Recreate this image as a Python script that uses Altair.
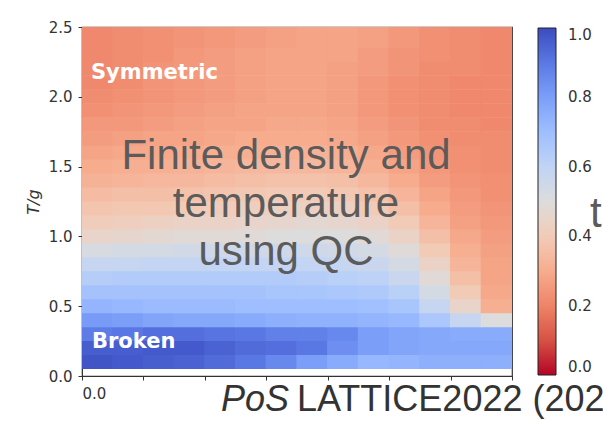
import altair as alt
import pandas as pd

# Cell centres along the horizontal axis (chemical potential) and temperature T/g
mu_centres = [0.125, 0.375, 0.625, 0.875, 1.125, 1.375, 1.625,
              1.875, 2.125, 2.375, 2.625, 2.875, 3.125, 3.375]
mu_step = 0.25
t_centres = [0.1, 0.2, 0.3, 0.4, 0.5, 0.6, 0.7, 0.8, 0.9, 1.0, 1.1, 1.2, 1.3,
             1.4, 1.5, 1.6, 1.7, 1.8, 1.9, 2.0, 2.1, 2.2, 2.3, 2.4, 2.5]
t_step = 0.1

# Order-parameter values, one list per temperature row (left to right in mu)
row_t01 = [0.98, 0.97, 0.96, 0.95, 0.93, 0.90, 0.86, 0.80, 0.76, 0.72, 0.73, 0.75, 0.75, 0.75]
row_t02 = [0.96, 0.96, 0.97, 0.97, 0.95, 0.93, 0.92, 0.90, 0.84, 0.80, 0.78, 0.77, 0.77, 0.77]
row_t03 = [0.89, 0.90, 0.92, 0.92, 0.91, 0.90, 0.88, 0.88, 0.86, 0.80, 0.78, 0.77, 0.76, 0.76]
row_t04 = [0.81, 0.80, 0.78, 0.77, 0.77, 0.76, 0.75, 0.74, 0.74, 0.73, 0.72, 0.66, 0.58, 0.50]
row_t05 = [0.73, 0.72, 0.71, 0.71, 0.71, 0.70, 0.70, 0.70, 0.70, 0.69, 0.67, 0.58, 0.45, 0.31]
row_t06 = [0.68, 0.68, 0.68, 0.68, 0.68, 0.68, 0.67, 0.67, 0.66, 0.65, 0.62, 0.53, 0.40, 0.29]
row_t07 = [0.63, 0.64, 0.64, 0.64, 0.64, 0.64, 0.64, 0.63, 0.62, 0.61, 0.57, 0.48, 0.36, 0.28]
row_t08 = [0.58, 0.58, 0.59, 0.59, 0.59, 0.59, 0.59, 0.59, 0.58, 0.57, 0.53, 0.44, 0.33, 0.28]
row_t09 = [0.52, 0.53, 0.53, 0.54, 0.55, 0.55, 0.55, 0.55, 0.54, 0.53, 0.49, 0.40, 0.31, 0.27]
row_t10 = [0.45, 0.46, 0.47, 0.48, 0.48, 0.49, 0.50, 0.50, 0.50, 0.48, 0.44, 0.36, 0.29, 0.26]
row_t11 = [0.41, 0.42, 0.43, 0.44, 0.44, 0.45, 0.46, 0.47, 0.46, 0.44, 0.40, 0.33, 0.27, 0.25]
row_t12 = [0.38, 0.39, 0.39, 0.40, 0.41, 0.42, 0.43, 0.43, 0.43, 0.40, 0.36, 0.30, 0.26, 0.24]
row_t13 = [0.35, 0.36, 0.36, 0.37, 0.38, 0.39, 0.40, 0.40, 0.39, 0.37, 0.33, 0.28, 0.25, 0.23]
row_t14 = [0.32, 0.33, 0.34, 0.34, 0.35, 0.36, 0.37, 0.37, 0.36, 0.34, 0.30, 0.26, 0.24, 0.23]
row_t15 = [0.30, 0.31, 0.31, 0.32, 0.33, 0.34, 0.34, 0.34, 0.33, 0.31, 0.28, 0.25, 0.23, 0.22]
row_t16 = [0.28, 0.29, 0.29, 0.30, 0.31, 0.31, 0.32, 0.32, 0.31, 0.29, 0.26, 0.24, 0.23, 0.22]
row_t17 = [0.26, 0.27, 0.28, 0.28, 0.29, 0.30, 0.30, 0.30, 0.29, 0.27, 0.25, 0.23, 0.22, 0.22]
row_t18 = [0.25, 0.25, 0.26, 0.27, 0.28, 0.28, 0.29, 0.29, 0.28, 0.26, 0.24, 0.22, 0.22, 0.21]
row_t19 = [0.23, 0.24, 0.25, 0.26, 0.27, 0.28, 0.28, 0.28, 0.27, 0.25, 0.23, 0.22, 0.21, 0.21]
row_t20 = [0.22, 0.23, 0.24, 0.25, 0.26, 0.27, 0.28, 0.28, 0.27, 0.25, 0.23, 0.22, 0.21, 0.21]
row_t21 = [0.21, 0.22, 0.24, 0.25, 0.26, 0.27, 0.28, 0.28, 0.27, 0.25, 0.23, 0.22, 0.21, 0.21]
row_t22 = [0.21, 0.22, 0.24, 0.25, 0.26, 0.27, 0.28, 0.28, 0.27, 0.26, 0.24, 0.22, 0.22, 0.21]
row_t23 = [0.21, 0.22, 0.23, 0.25, 0.26, 0.27, 0.28, 0.28, 0.28, 0.26, 0.24, 0.23, 0.22, 0.21]
row_t24 = [0.21, 0.22, 0.23, 0.24, 0.25, 0.26, 0.27, 0.28, 0.28, 0.27, 0.25, 0.23, 0.22, 0.21]
row_t25 = [0.21, 0.22, 0.23, 0.24, 0.25, 0.26, 0.27, 0.28, 0.28, 0.27, 0.25, 0.23, 0.22, 0.21]

rows = [row_t01, row_t02, row_t03, row_t04, row_t05, row_t06, row_t07, row_t08,
        row_t09, row_t10, row_t11, row_t12, row_t13, row_t14, row_t15, row_t16,
        row_t17, row_t18, row_t19, row_t20, row_t21, row_t22, row_t23, row_t24,
        row_t25]

# Colour bar ticks and reversed coolwarm stops (0 = red, 1 = blue)
cbar_ticks = [0.0, 0.2, 0.4, 0.6, 0.8, 1.0]
cmap_stops = [0.0, 0.1, 0.2, 0.3, 0.4, 0.5, 0.6, 0.7, 0.8, 0.9, 1.0]
cmap_colors = ["#b40426", "#d65244", "#ee8468", "#f7ac8e", "#f2cbb7", "#dddcdc",
               "#c0d4f5", "#9ebeff", "#7b9ff9", "#5a78e4", "#3b4cc0"]

# Cells overlap their neighbours by a hair so antialiasing leaves no seams
mu_overlap = 0.005
t_overlap = 0.004

records = []
for t, row in zip(t_centres, rows):
    for mu, v in zip(mu_centres, row):
        records.append({
            "mu0": mu - mu_step / 2 - mu_overlap, "mu1": mu + mu_step / 2 + mu_overlap,
            "t0": t - t_step / 2, "t1": t + t_step / 2 + t_overlap, "value": v,
        })
cells = pd.DataFrame(records)

x_scale = alt.Scale(domain=[0, 3.5], nice=False, zero=False)
y_scale = alt.Scale(domain=[0, 2.5], nice=False, zero=False)
c_scale = alt.Scale(domain=cmap_stops, range=cmap_colors, interpolate="rgb")

heat = alt.Chart(cells).mark_rect(clip=True, strokeWidth=0).encode(
    x=alt.X("mu0:Q", scale=x_scale,
            axis=alt.Axis(title=None, values=[0, 0.5, 1, 1.5, 2, 2.5, 3, 3.5],
                          labelExpr="datum.value == 0 ? '0.0' : ''",
                          labelPadding=6)),
    x2="mu1:Q",
    y=alt.Y("t0:Q", scale=y_scale,
            axis=alt.Axis(title="T/g", values=[0, 0.5, 1, 1.5, 2, 2.5],
                          format=".1f", titleFontStyle="italic",
                          titleFontWeight="normal", titleFontSize=16,
                          titlePadding=7, labelPadding=6)),
    y2="t1:Q",
    color=alt.Color(
        "value:Q",
        scale=c_scale,
        legend=alt.Legend(
            title=None, orient="none", legendX=456, legendY=1,
            direction="vertical", gradientLength=347, gradientThickness=18,
            gradientStrokeColor="#222", gradientStrokeWidth=1,
            values=cbar_ticks, format=".1f", labelFontSize=15,
            labelOffset=12, labelBaseline="middle", labelColor="#333",
            labelFont="DejaVu Sans", labelOverlap=False,
        ),
    ),
)

one = alt.Data(values=[{}])

def note(text, x, y, **style):
    return alt.Chart(one).mark_text(text=text, **style).encode(
        x=alt.value(x), y=alt.value(y))

symmetric = note("Symmetric", 9, 52, align="left", baseline="alphabetic",
                 font="DejaVu Sans", fontWeight="bold", fontSize=21, color="white")
broken = note("Broken", 10, 321, align="left", baseline="alphabetic",
              font="DejaVu Sans", fontWeight="bold", fontSize=21, color="white")
headline = note(["Finite density and", "temperature", "using QC"], 204, 142,
                align="center", baseline="alphabetic", lineHeight=48,
                font="Liberation Sans", fontSize=42, color="#5b5b5b")
side_t = note("t", 508, 200, align="left", baseline="alphabetic",
              font="Liberation Sans", fontSize=42, color="#5b5b5b")
pos_it = note("PoS", 139, 384, align="left", baseline="alphabetic",
              font="Liberation Sans", fontStyle="italic", fontSize=36, color="#333")
pos_rest = note("LATTICE2022 (2022)", 215, 384, align="left", baseline="alphabetic",
                font="Liberation Sans", fontSize=36, color="#333")

chart = alt.layer(heat, symmetric, broken, headline, side_t, pos_it, pos_rest).properties(
    width=430, height=349,
    autosize=alt.AutoSizeParams(type="none"),
    padding={"left": 82, "top": 27, "right": 91, "bottom": 45},
).configure_view(
    stroke="#333", strokeWidth=1.2,
).configure_axis(
    grid=False, domainColor="#333", tickColor="#333", tickSize=4,
    labelFont="DejaVu Sans", labelFontSize=15, labelColor="#333",
    titleFont="DejaVu Sans", titleColor="#333",
)

chart.save("out.html", embed_options={"renderer": "svg", "actions": False})
